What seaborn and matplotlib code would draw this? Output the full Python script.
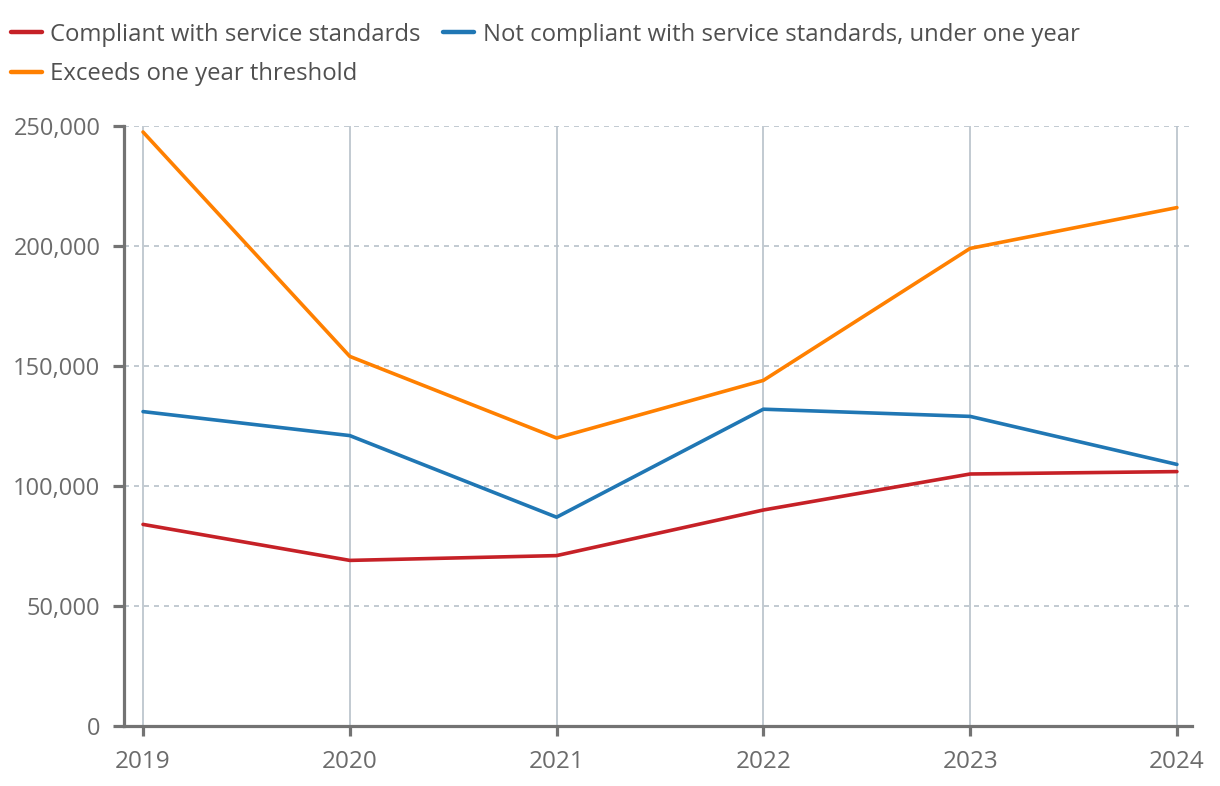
import matplotlib
matplotlib.use("Agg")
import matplotlib.pyplot as plt
import seaborn as sns
import pandas as pd
from matplotlib.ticker import FuncFormatter
from matplotlib.lines import Line2D

years = [2019, 2020, 2021, 2022, 2023, 2024]
compliant = [84000, 69000, 71000, 90000, 105000, 106000]
not_compliant = [131000, 121000, 87000, 132000, 129000, 109000]
exceeds = [247500, 154000, 120000, 144000, 199000, 216000]
series_names = [
    "Compliant with service standards",
    "Not compliant with service standards, under one year",
    "Exceeds one year threshold",
]
colors = ["#c62127", "#2077b4", "#ff8000"]
y_ticks = [0, 50000, 100000, 150000, 200000, 250000]

rows = []
for name, vals in zip(series_names, [compliant, not_compliant, exceeds]):
    for yr, v in zip(years, vals):
        rows.append({"year": yr, "value": v, "series": name})
df = pd.DataFrame(rows)

sns.set_style("white")
plt.rcParams["font.family"] = ["Open Sans", "DejaVu Sans"]

fig = plt.figure(figsize=(12.2, 7.86), dpi=100)
ax = fig.add_axes([124 / 1220, 60 / 786, (1192 - 124) / 1220, 600 / 786])

sns.lineplot(data=df, x="year", y="value", hue="series", hue_order=series_names,
             palette=dict(zip(series_names, colors)), linewidth=2.6, ax=ax,
             legend=False)

ax.set_xlim(2018.908, 2024.073)
ax.set_ylim(0, 250000)
ax.set_xticks(years)
ax.set_yticks(y_ticks)
ax.yaxis.set_major_formatter(FuncFormatter(lambda v, p: f"{int(v):,}"))
ax.set_xlabel("")
ax.set_ylabel("")

grid_c = "#b7c1ca"
for yr in years:
    ax.axvline(yr, color=grid_c, lw=1.2, zorder=0)
for t in y_ticks[1:]:
    ax.axhline(t, color=grid_c, lw=1.2, ls=(0, (3, 3)), zorder=0)

spine_c = "#737373"
for s in ["top", "right"]:
    ax.spines[s].set_visible(False)
for s in ["left", "bottom"]:
    ax.spines[s].set_color(spine_c)
    ax.spines[s].set_linewidth(2.3)
ax.tick_params(axis="y", length=8, width=2.3, color=spine_c, pad=9,
               labelsize=17, labelcolor="#6b6b6b", left=True)
ax.tick_params(axis="x", length=7, width=2.3, color=spine_c, pad=10,
               labelsize=17.5, labelcolor="#6b6b6b", bottom=True)

handles = [Line2D([], [], color=c, lw=3.2, solid_capstyle="round") for c in colors]
order = [0, 2, 1]
fig.legend([handles[i] for i in order], [series_names[i] for i in order],
           loc="upper left", bbox_to_anchor=(0.0, 1.0 - 12 / 786), ncol=2,
           frameon=False, fontsize=17.2, labelcolor="#505050",
           handlelength=1.3, handletextpad=0.35, columnspacing=0.95,
           labelspacing=0.65, borderaxespad=0.05, borderpad=0.4)

fig.savefig("out.png", dpi=100)
